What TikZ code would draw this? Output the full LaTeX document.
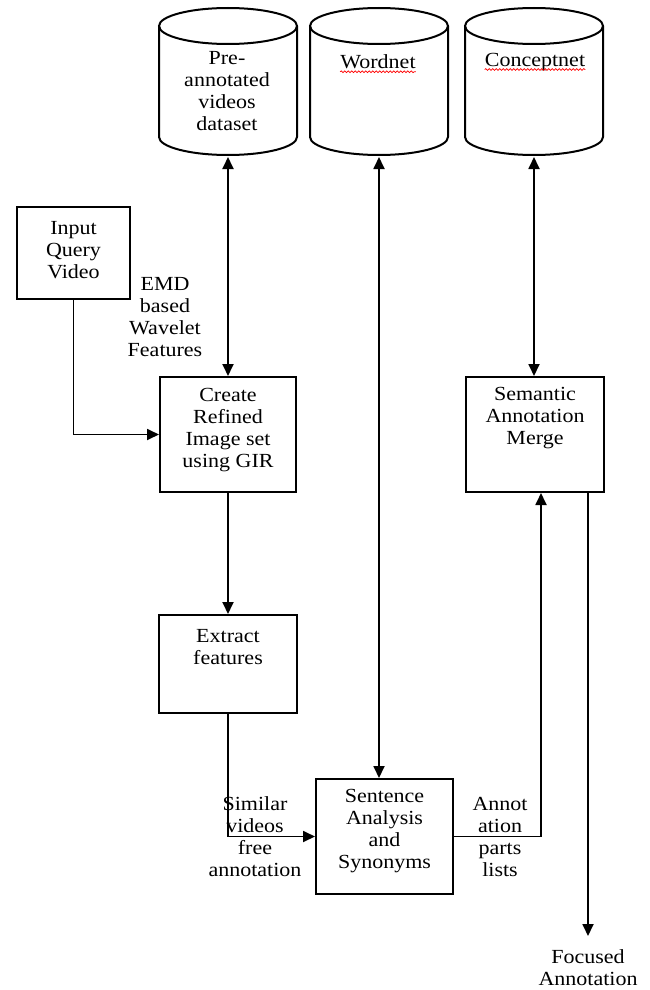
\documentclass[tikz,border=0pt]{standalone}
\usepackage{fontspec}
\setmainfont{Liberation Serif}[FakeStretch=1.1]
\usetikzlibrary{arrows.meta,decorations.pathmorphing}
\begin{document}
\begin{tikzpicture}[x=1pt,y=-1pt,
		font=\fontsize{20}{22}\selectfont,
		box/.style={draw,line width=2pt,inner sep=0pt},
		db/.style={line width=2pt},
		txt/.style={align=center,inner sep=0pt},
		link/.style={line width=1.8pt},
		tip/.style={-{Triangle[length=12pt,width=11pt]}},
		both/.style={{Triangle[length=12pt,width=11pt]}-{Triangle[length=12pt,width=11pt]}},
		squig/.style={red,line width=0.7pt,decorate,decoration={snake,amplitude=0.9pt,segment length=3.5pt}}]
		\useasboundingbox (0,0) rectangle (650,990);
		
		% databases
		\draw[db] (228,26) ellipse[x radius=69pt,y radius=18pt];
		\draw[db] (159,26) -- (159,137) arc[start angle=180,end angle=360,x radius=69pt,y radius=18pt] -- (297,26);
		\draw[db] (379,26) ellipse[x radius=69pt,y radius=18pt];
		\draw[db] (310,26) -- (310,137) arc[start angle=180,end angle=360,x radius=69pt,y radius=18pt] -- (448,26);
		\draw[db] (534,26) ellipse[x radius=69pt,y radius=18pt];
		\draw[db] (465,26) -- (465,137) arc[start angle=180,end angle=360,x radius=69pt,y radius=18pt] -- (603,26);
		
		\node[txt] (dstxt) at (227,91)		{Pre-\\annotated\\videos\\dataset};
		\node[txt] (wntxt) at (378,62)		{Wordnet};
		\node[txt] (cntxt) at (535,62)		{Conceptnet};
		\draw[squig] ([yshift=-3pt]wntxt.base west) -- ([yshift=-3pt]wntxt.base east);
		\draw[squig] ([yshift=-3pt]cntxt.base west) -- ([yshift=-3pt]cntxt.base east);
		
		\coordinate (dsb) at (228,157);
		\coordinate (wnb) at (379,157);
		\coordinate (cnb) at (534,157);
		
		% process boxes
		\node[box,minimum width=113pt,minimum height=92pt] (query) at (73.5,253)		{};
		\node[box,minimum width=136pt,minimum height=115pt] (create) at (228,434.5)		{};
		\node[box,minimum width=138pt,minimum height=98pt] (extract) at (228,664)		{};
		\node[box,minimum width=137pt,minimum height=115pt] (sentence) at (384.5,836.5)		{};
		\node[box,minimum width=138pt,minimum height=115pt] (semantic) at (535,434.5)		{};
		
		\node[txt] (querytxt) at (73.5,250)		{Input\\Query\\Video};
		\node[txt] (createtxt) at (228,430)		{Create\\Refined\\Image set\\using GIR};
		\node[txt] (extracttxt) at (228,647)		{Extract\\features};
		\node[txt] (sentencetxt) at (384.5,831)		{Sentence\\Analysis\\and\\Synonyms};
		\node[txt] (semantictxt) at (535,418)		{Semantic\\Annotation\\Merge};
		
		% edge texts
		\node[txt] (emd) at (165,317)		{EMD\\based\\Wavelet\\Features};
		\node[txt] (similar) at (255,837)		{Similar\\videos\\free\\annotation};
		\node[txt] (parts) at (500,837)		{Annot\\ation\\parts\\lists};
		\node[txt] (focused) at (588,968)		{Focused\\Annotation};
		
		\coordinate (semin) at ([xshift=6pt]semantic.south);
		\coordinate (semout) at ([xshift=53pt]semantic.south);
		\coordinate (fa) at (588,936);
		
		\draw[link,both] (dsb) -- (create.north);
		\draw[link,both] (wnb) -- (wnb |- sentence.north);
		\draw[link,both] (cnb) -- (cnb |- semantic.north);
		\draw[link,tip] (query.south) |- (create.west);
		\draw[link,tip] (create.south) -- (extract.north);
		\draw[link,tip] (extract.south) |- (sentence.west);
		\draw[link,tip] (sentence.east) -| (semin);
		\draw[link,tip] (semout) -- (fa);
	\end{tikzpicture}
\end{document}
